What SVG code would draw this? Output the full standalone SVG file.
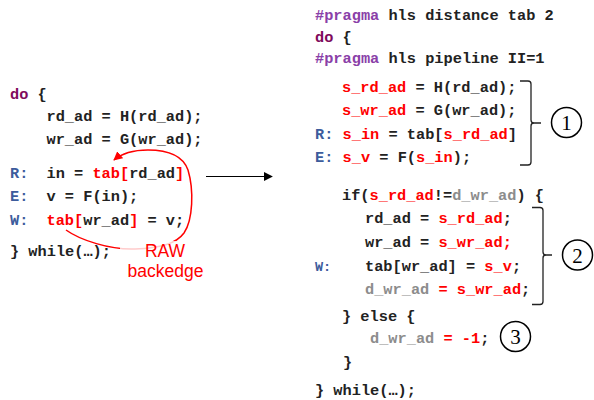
<svg xmlns="http://www.w3.org/2000/svg" width="594" height="400" viewBox="0 0 594 400">
  <style>
    .code { font-family: "Liberation Mono", "Courier New", monospace; font-weight: bold; font-size: 15.3px; fill: #222; white-space: pre; }
    .kw { fill: #800a5c; }
    .pr { fill: #8a40a8; }
    .lb { fill: #3d5c9c; }
    .rd { fill: #ff0000; }
    .gy { fill: #8c8c8c; }
    .small { font-size: 13.5px; }
    .brace { fill: none; stroke: #222; stroke-width: 1.3; }
    .num circle { fill: none; stroke: #000; stroke-width: 1.5; }
    .num text { font-family: "Liberation Serif", "Times New Roman", serif; font-size: 21px; fill: #000; text-anchor: middle; }
    .note { font-family: "Liberation Sans", Arial, sans-serif; font-size: 17.5px; fill: #ff0000; text-anchor: middle; }
  </style>
  <defs>
    <marker id="arrowBlack" viewBox="0 0 10 10" refX="9" refY="5" markerWidth="9" markerHeight="9" markerUnits="userSpaceOnUse" orient="auto">
      <path d="M0,0 L10,5 L0,10 z" fill="#000"/>
    </marker>
    <marker id="arrowRed" viewBox="0 0 10 10" refX="9" refY="5" markerWidth="9" markerHeight="9" markerUnits="userSpaceOnUse" orient="auto">
      <path d="M0,0 L10,5 L0,10 z" fill="#ff0000"/>
    </marker>
  </defs>

  <!-- original loop -->
  <g id="loop-original" class="code">
    <text x="10" y="99"><tspan class="kw">do</tspan> {</text>
    <text x="46.5" y="121">rd_ad = H(rd_ad);</text>
    <text x="46.5" y="144">wr_ad = G(wr_ad);</text>
    <text x="10" y="178" class="lb">R:</text>
    <text x="46.5" y="178">in = <tspan class="rd">tab[</tspan>rd_ad<tspan class="rd">]</tspan></text>
    <text x="10" y="201" class="lb">E:</text>
    <text x="46.5" y="201">v = F(in);</text>
    <text x="10" y="225" class="lb">W:</text>
    <text x="46.5" y="225"><tspan class="rd">tab[</tspan>wr_ad<tspan class="rd">]</tspan> = v;</text>
    <text x="10" y="256">} while(…);</text>
  </g>

  <!-- transformed loop -->
  <g id="loop-transformed" class="code">
    <text x="315" y="20"><tspan class="pr">#pragma</tspan> hls distance tab 2</text>
    <text x="315" y="41.5"><tspan class="kw">do</tspan> {</text>
    <text x="315" y="63"><tspan class="pr">#pragma</tspan> hls pipeline II=1</text>
    <text x="342" y="92"><tspan class="rd">s_rd_ad</tspan> = H(rd_ad);</text>
    <text x="342" y="115"><tspan class="rd">s_wr_ad</tspan> = G(wr_ad);</text>
    <text x="315" y="139"><tspan class="lb">R: </tspan><tspan class="rd">s_in</tspan> = tab[<tspan class="rd">s_rd_ad</tspan>]</text>
    <text x="315" y="162"><tspan class="lb">E: </tspan><tspan class="rd">s_v</tspan> = F(<tspan class="rd">s_in</tspan>);</text>
    <text x="342" y="200">if(<tspan class="rd">s_rd_ad</tspan>!=<tspan class="gy">d_wr_ad</tspan>) {</text>
    <text x="365" y="223">rd_ad = <tspan class="rd">s_rd_ad</tspan>;</text>
    <text x="365" y="247">wr_ad = <tspan class="rd">s_wr_ad;</tspan></text>
    <text x="315" y="271" class="lb small">W:</text>
    <text x="365" y="271">tab[wr_ad] = <tspan class="rd">s_v</tspan>;</text>
    <text x="365" y="294"><tspan class="gy">d_wr_ad</tspan><tspan class="rd"> = s_wr_ad</tspan>;</text>
    <text x="342" y="321">} else {</text>
    <text x="370" y="343"><tspan class="gy">d_wr_ad</tspan><tspan class="rd"> = -1</tspan>;</text>
    <text x="343" y="367">}</text>
    <text x="315" y="395">} while(…);</text>
  </g>

  <!-- braces grouping the pipeline stages -->
  <g id="brace-1">
    <path class="brace" d="M520,81 H528 Q531,81 531,84 V120 Q531,123 534,123 H541 M534,123 Q531,123 531,126 V162 Q531,165 528,165 H520"/>
  </g>
  <g id="brace-2">
    <path class="brace" d="M532,207.5 H540 Q543,207.5 543,210.5 V252 Q543,255 546,255 H552 M546,255 Q543,255 543,258 V301.5 Q543,304.5 540,304.5 H532"/>
  </g>

  <!-- numbered markers -->
  <g id="marker-1" class="num">
    <circle cx="566.5" cy="122.5" r="15"/>
    <text x="566.5" y="130">1</text>
  </g>
  <g id="marker-2" class="num">
    <circle cx="577.5" cy="255" r="15"/>
    <text x="577.5" y="262.5">2</text>
  </g>
  <g id="marker-3" class="num">
    <circle cx="515.5" cy="336.5" r="15"/>
    <text x="515.5" y="344">3</text>
  </g>

  <!-- connectors -->
  <g id="connectors">
    <line x1="206" y1="176.5" x2="272" y2="176.5" stroke="#000" stroke-width="1.2" marker-end="url(#arrowBlack)"/>
    <path d="M66,230 C80,240 110,250 135,249 C160,248 176,244 184,233 C193,220 194,190 188,170 C183,156 170,150 148,150 C132,150 121,154 114,160" fill="none" stroke="#ff0000" stroke-width="1.5" marker-end="url(#arrowRed)"/>
  </g>

  <!-- backedge label -->
  <g id="label-raw">
    <rect x="120" y="241" width="56" height="20" fill="#fff" fill-opacity="0.8"/>
    <text class="note" x="165" y="257">RAW</text>
    <text class="note" x="165.5" y="277">backedge</text>
  </g>
</svg>
